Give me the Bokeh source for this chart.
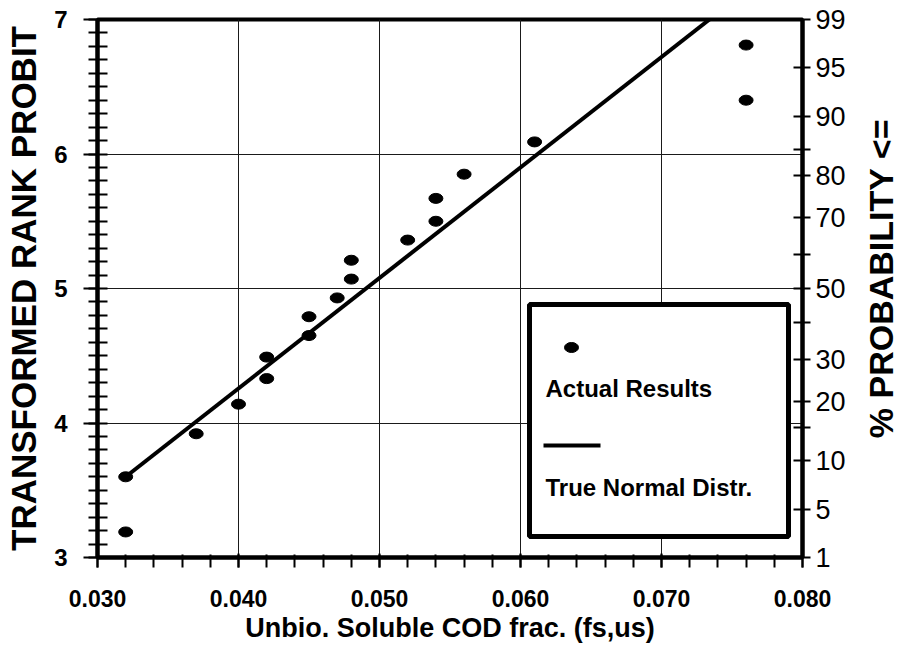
import math
from statistics import NormalDist
from bokeh.plotting import figure
from bokeh.layouts import row
from bokeh.models import (Range1d, LinearAxis, SingleIntervalTicker, FixedTicker,
                          PrintfTickFormatter, CustomJSTickFormatter)
from bokeh.core.properties import value
from bokeh.embed import file_html
from bokeh.resources import INLINE

# ---- data ----
fs_us = [0.032, 0.032, 0.037, 0.040, 0.042, 0.042, 0.045, 0.045, 0.047,
         0.048, 0.048, 0.052, 0.054, 0.054, 0.056, 0.061, 0.076, 0.076]
rank_probit = [3.19, 3.60, 3.92, 4.14, 4.33, 4.49, 4.65, 4.79, 4.93,
               5.07, 5.21, 5.36, 5.50, 5.67, 5.85, 6.09, 6.40, 6.81]
fit_x = [0.032, 0.0734]
fit_y = [3.60, 7.00]
prob_ticks = [1, 5, 10, 15, 20, 30, 40, 50, 60, 70, 80, 85, 90, 95, 99]
prob_labels = ["1", "5", "10", "", "20", "30", "", "50", "", "70", "80", "", "90", "95", "99"]

FONT = "Liberation Sans"
Y_MIN, Y_MAX = 3, 7

p = figure(width=855, height=648, output_backend="svg", toolbar_location=None,
           x_range=Range1d(0.030, 0.080), y_range=Range1d(Y_MIN, Y_MAX),
           min_border_left=97, min_border_right=53, min_border_top=19,
           min_border_bottom=91)
p.background_fill_color = "white"
p.border_fill_color = "white"
p.outline_line_color = "black"
p.outline_line_width = 4

for g in (p.xgrid, p.ygrid):
    g.grid_line_color = "#1a1a1a"
    g.grid_line_width = 1

# bottom axis
xa = p.xaxis[0]
xa.ticker = SingleIntervalTicker(interval=0.01, num_minor_ticks=5)
xa.formatter = PrintfTickFormatter(format="%.3f")
xa.axis_line_width = 4
xa.major_tick_line_width = 2
xa.minor_tick_line_width = 2
xa.major_tick_out = 10
xa.major_tick_in = 4
xa.minor_tick_out = 10
xa.minor_tick_in = 3
xa.major_label_text_font = FONT
xa.major_label_text_font_style = "bold"
xa.major_label_text_font_size = "23px"
xa.major_label_text_color = "black"
xa.major_label_standoff = 22
xa.axis_label = "Unbio. Soluble COD frac. (fs,us)"
xa.axis_label_text_font = FONT
xa.axis_label_text_font_style = "bold"
xa.axis_label_text_font_size = "27px"
xa.axis_label_text_color = "black"
xa.axis_label_standoff = 3

# left axis
ya = p.yaxis[0]
ya.ticker = SingleIntervalTicker(interval=1, num_minor_ticks=10)
ya.axis_line_width = 4
ya.major_tick_line_width = 2
ya.minor_tick_line_width = 2
ya.major_tick_out = 14
ya.major_tick_in = 0
ya.minor_tick_out = 9
ya.minor_tick_in = 10
ya.major_label_text_font = FONT
ya.major_label_text_font_style = "bold"
ya.major_label_text_font_size = "24px"
ya.major_label_text_color = "black"
ya.major_label_standoff = 16
ya.axis_label = "TRANSFORMED RANK PROBIT"
ya.axis_label_text_font = FONT
ya.axis_label_text_font_style = "bold"
ya.axis_label_text_font_size = "35px"
ya.axis_label_text_color = "black"
ya.axis_label_standoff = 8

# right probability axis
prob_pos = [min(max(5 + NormalDist().inv_cdf(v / 100.0), Y_MIN), Y_MAX) for v in prob_ticks]
ra = LinearAxis(ticker=FixedTicker(ticks=prob_pos, minor_ticks=[]),
                formatter=CustomJSTickFormatter(args=dict(pos=prob_pos, labs=prob_labels), code="""
                    let best = 0;
                    for (let i = 0; i < pos.length; i++) {
                        if (Math.abs(pos[i] - tick) < Math.abs(pos[best] - tick)) best = i;
                    }
                    return labs[best];
                """))
ra.axis_line_width = 4
ra.major_tick_line_width = 2
ra.major_tick_out = 8
ra.major_tick_in = 9
ra.major_label_text_font = FONT
ra.major_label_text_font_size = "27px"
ra.major_label_text_color = "black"
ra.major_label_standoff = 5
p.add_layout(ra, "right")

# data
p.line(fit_x, fit_y, line_color="black", line_width=4)
p.ellipse(fs_us, rank_probit, width=14, height=10, width_units="screen",
          height_units="screen", fill_color="black", line_color="black")

# legend drawn in frame-pixel space
p.extra_x_ranges = {"px": Range1d(0, 705)}
p.extra_y_ranges = {"px": Range1d(0, 538)}
p.quad(left=[432], right=[691], bottom=[21], top=[253], fill_color="white",
       line_color="black", line_width=5, x_range_name="px", y_range_name="px")
p.ellipse([474], [210], width=14, height=10, width_units="screen", height_units="screen",
          fill_color="black", line_color="black", x_range_name="px", y_range_name="px")
p.line([446, 503], [112, 112], line_color="black", line_width=4,
       x_range_name="px", y_range_name="px")
p.text([448, 448], [169, 70], text=["Actual Results", "True Normal Distr."],
       text_font=value(FONT), text_font_style="bold", text_font_size="24px",
       text_color="black", text_baseline="middle", text_align="left",
       x_range_name="px", y_range_name="px")

# right-hand title strip (text reads bottom-to-top)
t = figure(width=48, height=648, output_backend="svg", toolbar_location=None,
           x_range=Range1d(0, 48), y_range=Range1d(0, 648),
           min_border=0, outline_line_color=None)
t.axis.visible = False
t.grid.visible = False
t.background_fill_color = "white"
t.border_fill_color = "white"
t.text([25], [336], text=["% PROBABILITY <="], angle=math.pi / 2,
       text_font=value(FONT), text_font_style="bold", text_font_size="34px",
       text_color="black", text_align="center", text_baseline="middle")

layout = row(p, t, spacing=0)
open("out.html", "w").write(file_html(layout, INLINE))
